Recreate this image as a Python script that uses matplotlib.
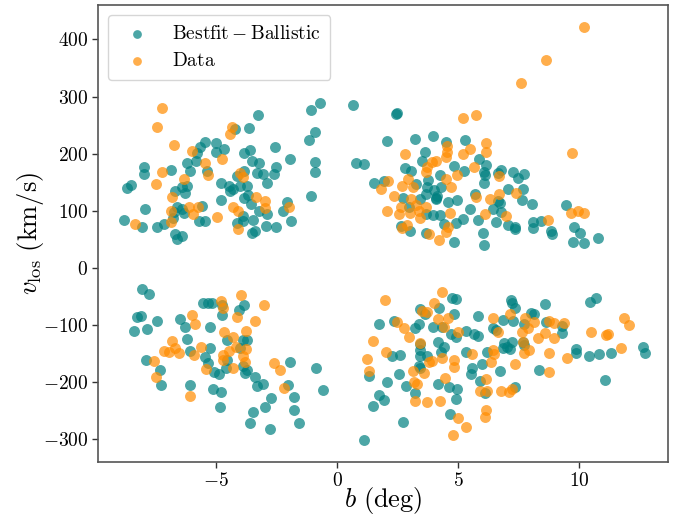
import matplotlib
matplotlib.use("Agg")
import matplotlib.pyplot as plt
import numpy as np

plt.rcParams['mathtext.fontset'] = 'cm'
plt.rcParams['font.family'] = ['DejaVu Serif']

# Bestfit - Ballistic (b in deg, v_los in km/s)
model_b = [
    -5.48, -5.66, -4.99, -4.99, -4.67, -5.79, -6.21, -5.84, -6.09, -5.36, -7.99, -8.00, -6.86, -8.51, -8.67,
    -4.82, -6.19, -6.40, -6.31, -6.72, -4.81, -7.93, -6.61, -6.43, -6.76, -6.33, -5.57, -8.79, -8.07, -7.44,
    -7.16, -6.79, -5.73, -5.48, -6.71, -6.40, -6.64,
    -0.70, -1.10, -3.29, -0.91, -1.16, -3.65, -4.21, -3.87, -3.62, -2.55, -1.93, -0.90, -0.91, -3.54, -3.24,
    -3.32, -3.07, -2.89, -2.63, -2.52, -3.87, -4.14, -4.01, -4.29, -4.49, -3.71, -4.42, -3.84, -3.67, -3.57,
    -2.90, -3.24, -3.91, -3.90, -4.14, -3.48, -2.95, -2.52, -2.07, -2.22, -1.91, -1.07, -3.54, -3.38,
    0.65, 2.43, 2.46, 2.04, 3.21, 3.95, 4.50, 3.61, 3.51, 0.76, 1.09, 2.81, 3.03, 1.54, 1.93, 3.26, 3.77,
    4.26, 3.73, 4.01, 4.30, 3.68, 4.14, 4.08, 4.10, 4.60, 3.43, 2.70, 2.95, 3.67, 3.95, 4.26, 4.97, 4.43,
    4.89, 2.63, 2.99, 3.68, 4.81, 4.81,
    5.29, 5.88, 6.14, 5.26, 6.05, 6.09, 6.64, 6.75, 7.26, 7.47, 7.71, 6.05, 7.08, 7.67, 5.70, 6.64, 6.72,
    6.42, 6.78, 5.48, 7.64, 8.07, 9.45, 5.18, 5.81, 6.58, 7.05, 7.33, 7.33, 8.10, 8.10, 8.44, 8.84, 8.87,
    9.78, 10.05, 9.76, 10.22, 10.77, 6.02, 6.05,
    -8.07, -7.78, -5.55, -5.32, -5.18, -4.74, -8.28, -8.10, -7.45, -8.40, -7.88, -6.50, -6.31, -5.24, -4.76,
    -6.20, -6.07, -5.25, -5.45, -5.32, -5.11, -4.89, -7.92, -7.33, -7.27, -6.09, -5.15, -4.79, -4.86,
    -3.84, -4.05, -4.56, -3.90, -3.73, -4.01, -4.56, -4.59, -3.90, -3.73, -3.79, -3.40, -3.32, -3.06, -1.95,
    -0.88, -0.59, -2.02, -1.79, -2.73, -3.00, -3.46, -1.79, -3.62, -2.77, -1.58,
    4.74, 4.92, 3.43, 3.61, 4.19, 4.81, 1.72, 2.36, 3.39, 3.21, 3.98, 4.33, 4.72, 4.92, 3.43, 4.16, 4.42,
    4.29, 3.43, 3.43, 3.73, 2.26, 2.60, 3.38, 3.43, 2.55, 1.31, 2.05, 2.85, 3.21, 4.17, 4.64, 4.95, 1.71,
    1.95, 1.50, 4.89, 4.67, 2.70, 1.09,
    7.19, 7.33, 7.23, 8.57, 8.02, 8.15, 5.83, 6.86, 7.27, 7.73, 6.45, 6.56, 5.34, 5.67, 5.81, 8.62, 9.31,
    9.31, 6.91, 7.22, 7.01, 6.87, 7.16, 7.69, 7.70, 5.33, 6.20, 6.00, 5.57, 5.54, 6.74, 8.33, 5.90, 7.36,
    6.09,
    10.71, 10.45, 9.88, 9.88, 10.41, 10.81, 11.32, 12.64, 12.71, 11.07,
]
model_v = [
    220.1, 211.4, 218.4, 202.6, 208.9, 200.9, 184.4, 186.9, 170.4, 169.3, 176.4, 164.6, 171.1, 145.9, 140.6,
    148.3, 143.1, 141.3, 131.3, 134.3, 119.1, 103.8, 106.3, 103.8, 97.5, 96.3, 108.0, 84.1, 71.8, 72.3,
    76.5, 87.0, 82.3, 82.8, 59.0, 56.6, 51.3,
    288.4, 276.2, 268.5, 237.6, 223.6, 245.7, 243.9, 201.9, 206.1, 211.9, 190.4, 185.6, 168.6, 187.4, 184.4,
    166.9, 164.1, 149.4, 164.1, 176.4, 169.9, 161.1, 143.6, 138.9, 144.1, 144.1, 134.8, 123.1, 127.8, 112.1,
    94.0, 100.3, 90.5, 82.3, 78.3, 84.1, 73.5, 72.3, 115.0, 99.8, 82.3, 126.1, 60.8, 64.3,
    285.4, 269.7, 272.0, 222.4, 225.4, 231.1, 221.2, 203.7, 187.9, 183.3, 182.1, 174.6, 169.3, 148.3, 152.9,
    146.6, 154.1, 162.9, 141.3, 136.6, 142.4, 129.6, 126.1, 120.3, 122.0, 115.0, 120.8, 122.6, 106.3, 94.0,
    93.3, 92.3, 119.1, 77.0, 79.3, 73.5, 65.3, 61.8, 45.5, 178.6,
    224.1, 190.4, 180.4, 169.9, 168.6, 162.3, 166.9, 172.1, 168.6, 157.6, 164.6, 148.3, 138.3, 138.3, 129.6,
    117.3, 113.3, 103.3, 97.5, 103.8, 119.6, 112.1, 109.8, 86.3, 84.1, 81.1, 75.8, 72.3, 68.8, 80.0, 70.0,
    82.8, 65.3, 59.5, 71.3, 60.8, 45.5, 43.8, 53.1, 60.8, 40.8,
    -37.3, -45.5, -60.8, -60.8, -60.8, -64.8, -86.3, -84.1, -92.3, -110.3, -107.3, -88.8, -102.8, -103.8,
    -82.3, -124.3, -145.9, -140.6, -156.4, -166.9, -181.6, -186.1, -161.1, -179.1, -204.4, -204.4, -212.4,
    -217.1, -242.9,
    -64.8, -74.1, -126.1, -126.1, -126.1, -140.6, -161.1, -174.6, -171.6, -178.6, -183.3, -190.4, -206.6,
    -203.1, -164.6, -174.6, -213.6, -205.4, -225.9, -228.2, -243.9, -251.6, -248.7, -270.9, -281.9, -271.9,
    -52.0, -54.3, -71.8, -81.1, -69.5, -80.5, -98.6, -92.8, -97.5, -105.6, -102.8, -102.8, -116.1, -120.3,
    -133.6, -130.1, -138.9, -146.6, -143.6, -154.1, -154.1, -154.1, -152.3, -171.6, -175.6, -186.1, -188.6,
    -199.1, -206.6, -218.4, -203.1, -208.9, -211.9, -222.4, -231.7, -242.2, -229.9, -255.7, -269.1, -301.2,
    -56.0, -70.6, -61.8, -63.6, -79.3, -81.1, -84.1, -90.5, -92.3, -98.1, -104.5, -109.1, -110.3, -116.1,
    -118.5, -94.0, -101.0, -114.3, -131.9, -129.1, -137.8, -140.6, -141.8, -130.1, -134.8, -146.6, -147.6,
    -167.6, -175.6, -185.1, -180.4, -179.1, -197.4, -207.9, -219.4,
    -52.0, -60.1, -141.8, -148.3, -153.6, -151.1, -149.4, -137.8, -148.8, -195.6,
]

# Data (b in deg, v_los in km/s)
data_b = [
    -7.24, -7.43, -6.74, -5.98, -5.45, -4.76, -7.22, -7.49, -6.33, -5.32, -6.83, -6.86, -6.12, -5.76, -5.95,
    -4.95, -8.36, -6.86,
    -4.35, -4.42, -4.01, -3.90, -3.35, -2.99, -2.99, -2.01, -4.29, -4.10, -4.08,
    2.82, 4.53, 4.53, 4.50, 3.91, 4.08, 3.73, 3.68, 2.92, 2.67, 2.11, 1.81, 3.15, 4.50, 4.95, 4.70, 2.36,
    3.05, 3.25, 2.64, 2.55, 2.05, 3.02, 3.39, 3.43, 3.68, 4.67, 2.69, 2.88, 3.80, 4.50, 4.60, 4.19,
    5.22, 5.74, 6.14, 6.16, 5.50, 5.22, 5.66, 6.67, 9.70, 7.38, 6.69, 6.31, 5.73, 6.12, 6.98, 8.71, 9.67,
    9.95, 10.19,
    10.18, 8.61, 7.60,
    -6.00, -5.86, -4.81, -4.70, -6.81, -7.16, -6.97, -6.69, -6.53, -5.92, -5.62, -7.57, -7.49, -5.41, -6.09,
    -4.70, -4.70, -4.66,
    -3.98, -3.03, -3.40, -4.14, -3.77, -4.29, -4.17, -4.46, -3.90, -3.80, -3.76, -4.29, -2.62, -2.36, -2.18,
    1.97, 4.35, 4.01, 3.50, 3.73, 2.47, 2.78, 2.95, 4.16, 4.56, 4.43, 5.01, 1.50, 3.43, 2.02, 1.23, 1.33,
    3.91, 3.80, 4.33, 4.81, 3.13, 3.60, 4.46, 3.18, 3.29, 3.22, 3.73, 4.23, 5.01, 4.78, 4.83,
    6.45, 7.16, 7.77, 8.15, 7.90, 8.77, 8.95, 9.39, 6.64, 7.63, 8.60, 8.29, 8.98, 7.69, 6.42, 6.48, 7.93,
    7.70, 8.77, 9.49, 5.59, 6.35, 7.36, 8.76, 6.14, 5.92, 6.19, 6.76, 7.12, 7.24, 6.14, 6.09, 5.33,
    11.87, 12.08, 10.50, 11.10, 11.21, 11.75,
]
data_v = [
    279.7, 247.4, 215.4, 205.4, 184.4, 190.9, 168.6, 147.6, 155.3, 162.9, 124.3, 100.3, 106.3, 107.3, 94.6,
    89.8, 77.0, 81.1,
    247.4, 234.1, 165.8, 158.8, 124.9, 116.8, 105.1, 107.3, 106.3, 100.3, 67.8,
    199.6, 213.6, 203.7, 193.8, 186.1, 187.4, 177.4, 168.6, 155.3, 143.6, 152.3, 138.9, 141.3, 155.3, 162.9,
    141.3, 126.1, 120.3, 110.3, 106.3, 94.6, 100.3, 95.8, 100.3, 88.1, 107.3, 96.8, 69.5, 75.3, 59.5, 63.6,
    72.3, 49.0,
    262.1, 267.9, 218.4, 203.7, 207.9, 199.1, 177.4, 161.1, 200.9, 131.9, 129.6, 120.8, 124.9, 95.1, 91.1,
    84.6, 95.8, 99.3, 96.8,
    422.6, 364.3, 324.5,
    -81.8, -97.5, -57.3, -70.0, -128.4, -144.8, -147.1, -140.6, -149.4, -151.8, -137.8, -162.3, -191.4,
    -177.4, -223.6, -152.3, -161.1, -112.6,
    -46.8, -65.3, -92.8, -85.3, -110.3, -121.4, -137.8, -145.3, -154.1, -164.1, -142.4, -175.1, -165.8,
    -179.1, -210.7,
    -56.0, -42.6, -61.8, -75.3, -76.5, -94.0, -104.5, -121.4, -89.8, -88.1, -103.8, -111.5, -127.3, -131.9,
    -146.6, -159.3, -180.4, -162.9, -164.0, -157.1, -161.1, -180.4, -184.4, -192.1, -199.1, -203.1, -232.9,
    -235.2, -232.9, -263.2, -292.4, -172.8,
    -88.1, -81.1, -88.1, -95.1, -104.5, -92.8, -95.8, -96.8, -111.5, -112.6, -113.3, -123.1, -123.1, -129.1,
    -143.6, -151.1, -144.1, -148.8, -148.8, -157.1, -150.6, -165.1, -168.6, -181.6, -194.9, -215.4, -215.4,
    -215.4, -217.7, -211.9, -248.7, -260.4, -277.9,
    -87.0, -99.3, -112.6, -116.8, -115.0, -140.6,
]

x_ticks = [-5, 0, 5, 10]
y_ticks = [-300, -200, -100, 0, 100, 200, 300, 400]

fig = plt.figure(figsize=(6.91, 5.18), dpi=100)
ax = fig.add_axes([0.142, 0.108, 0.825, 0.882])

ax.scatter(model_b, model_v, s=62, color='teal', alpha=0.7, linewidths=0,
           label=r'$\mathrm{Bestfit-Ballistic}$', zorder=2)
ax.scatter(data_b, data_v, s=62, color='darkorange', alpha=0.7, linewidths=0,
           label=r'$\mathrm{Data}$', zorder=3)

ax.set_xlim(-9.88, 13.68)
ax.set_ylim(-340, 460)
ax.set_xticks(x_ticks)
ax.set_yticks(y_ticks)
ax.set_xticklabels([r'$%d$' % t for t in x_ticks])
ax.set_yticklabels([r'$%d$' % t for t in y_ticks])
ax.tick_params(labelsize=14, direction='out', length=4, width=1, color='#333333')
ax.tick_params(axis='x', pad=3)
ax.tick_params(axis='y', pad=3)
for sp in ax.spines.values():
    sp.set_color('#555555')
    sp.set_linewidth(1.2)

ax.set_xlabel(r'$b\ \mathrm{(deg)}$', fontsize=19)
ax.xaxis.set_label_coords(0.5, -0.05)
ax.set_ylabel(r'$v_{\rm los}\ \mathrm{(km/s)}$', fontsize=19, labelpad=-2)

leg = ax.legend(loc='upper left', fontsize=14, frameon=True, fancybox=True,
                markerscale=0.8, handletextpad=0.8, borderpad=0.5)
leg.get_frame().set_edgecolor('#cccccc')

fig.savefig('out.png', dpi=100)
